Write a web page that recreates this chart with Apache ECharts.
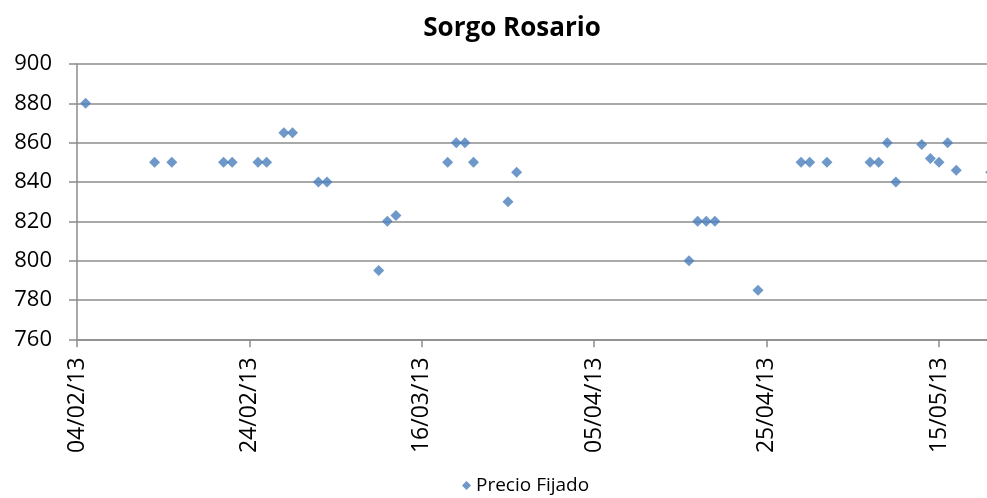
<!DOCTYPE html>
<html>
<head>
<meta charset="utf-8">
<script src="https://cdn.jsdelivr.net/npm/echarts@6/dist/echarts.min.js"></script>
<style>
html,body{margin:0;padding:0;background:#fff;}
#chart{width:987px;height:498px;}
</style>
</head>
<body>
<div id="chart"></div>
<script>
// Data
var title = 'Sorgo Rosario';
var seriesName = 'Precio Fijado';
var startDate = '2013-02-04';
var dates = [
  '2013-02-05','2013-02-13','2013-02-15','2013-02-21','2013-02-22','2013-02-25','2013-02-26',
  '2013-02-28','2013-03-01','2013-03-04','2013-03-05','2013-03-11','2013-03-12','2013-03-13',
  '2013-03-19','2013-03-20','2013-03-21','2013-03-22','2013-03-26','2013-03-27',
  '2013-04-16','2013-04-17','2013-04-18','2013-04-19','2013-04-24','2013-04-29','2013-04-30',
  '2013-05-02','2013-05-07','2013-05-08','2013-05-09','2013-05-10','2013-05-13','2013-05-14',
  '2013-05-15','2013-05-16','2013-05-17','2013-05-21'
];
var prices = [
  880,850,850,850,850,850,850,
  865,865,840,840,795,820,823,
  850,860,860,850,830,845,
  800,820,820,820,785,850,850,
  850,850,850,860,840,859,852,
  850,860,846,845
];
var yMin = 760, yMax = 900, yStep = 20;
var xStepDays = 20, xMaxDays = 120;

var DAY = 86400000;
var t0 = Date.parse(startDate + 'T00:00:00Z');
function dayIndex(s){ return Math.round((Date.parse(s + 'T00:00:00Z') - t0) / DAY); }
function fmt(d){
  var dt = new Date(t0 + d * DAY);
  var dd = ('0' + dt.getUTCDate()).slice(-2);
  var mm = ('0' + (dt.getUTCMonth() + 1)).slice(-2);
  var yy = ('' + dt.getUTCFullYear()).slice(-2);
  return dd + '/' + mm + '/' + yy;
}
var points = dates.map(function(s, i){ return [dayIndex(s), prices[i]]; });

var FONT = 'Open Sans';
var gridColor = '#8c8c8c';
var chart = echarts.init(document.getElementById('chart'), null, {renderer:'canvas'});
chart.setOption({
  animation: false,
  backgroundColor: '#ffffff',
  title: {
    text: title, left: 507, top: 11, textAlign: 'center',
    textStyle: {fontFamily: FONT, fontWeight: 'bold', fontSize: 26, color: '#000'}
  },
  legend: {
    data: [{name: seriesName, icon: 'diamond'}],
    left: 457, top: 471, itemWidth: 9, itemHeight: 9, itemGap: 8,
    textStyle: {fontFamily: FONT, fontSize: 19, color: '#000'}
  },
  grid: {left: 77, top: 64, width: xMaxDays * 8.62, height: 275.3, containLabel: false, outerBoundsMode: 'none'},
  xAxis: {
    type: 'value', min: 0, max: xMaxDays, interval: xStepDays,
    axisLine: {show: true, lineStyle: {color: gridColor, width: 1.5}},
    axisTick: {show: true, length: 8, lineStyle: {color: gridColor, width: 1.5}},
    splitLine: {show: false},
    axisLabel: {rotate: 90, margin: 18, fontFamily: FONT, fontSize: 23, color: '#000',
      formatter: function(v){ return fmt(v); }}
  },
  yAxis: {
    type: 'value', min: yMin, max: yMax, interval: yStep,
    axisLine: {show: true, lineStyle: {color: gridColor, width: 1.5}},
    axisTick: {show: true, length: 8, lineStyle: {color: gridColor, width: 1.5}},
    splitLine: {show: true, lineStyle: {color: gridColor, width: 1.5}},
    axisLabel: {margin: 25, fontFamily: FONT, fontSize: 22, color: '#000'}
  },
  series: [{
    name: seriesName, type: 'scatter', symbol: 'diamond', symbolSize: 11,
    itemStyle: {color: '#4a7ebb'},
    data: points
  }]
});
</script>
</body>
</html>
